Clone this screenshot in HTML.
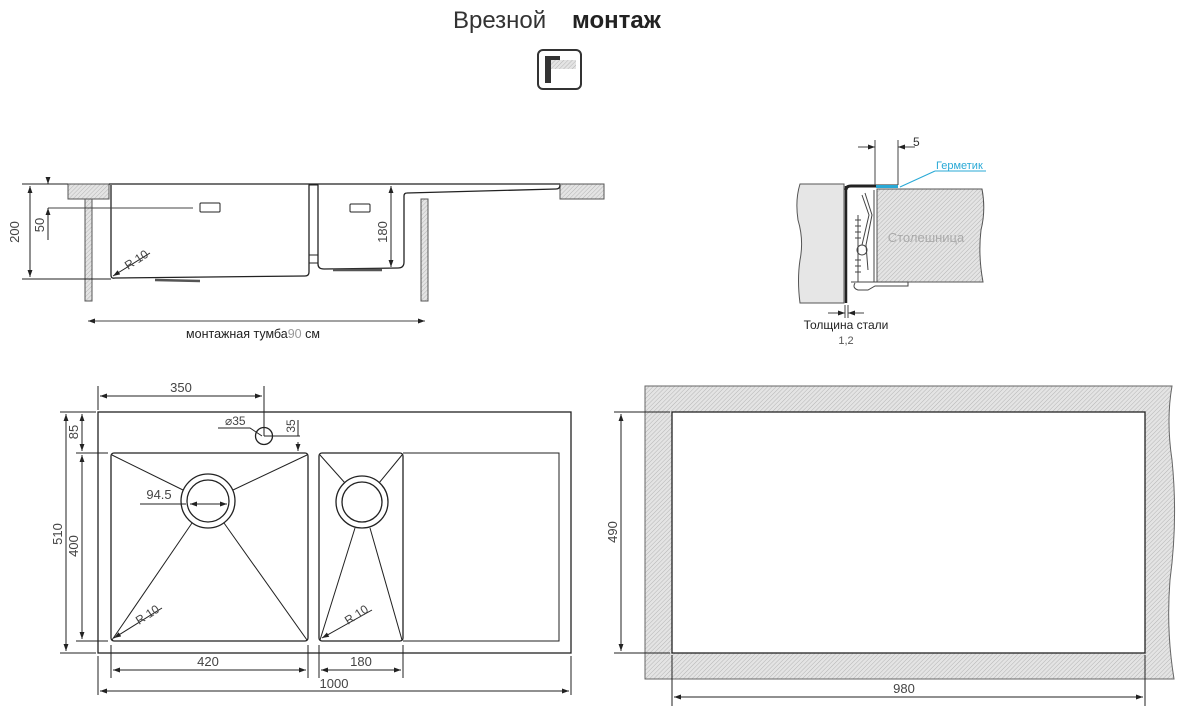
<!DOCTYPE html>
<html><head><meta charset="utf-8"><style>
html,body{margin:0;padding:0;background:#fff;}
svg{display:block;font-family:"Liberation Sans",sans-serif;}
</style></head><body>
<svg width="1185" height="712" viewBox="0 0 1185 712" xmlns="http://www.w3.org/2000/svg">
<defs>
<pattern id="h" width="3" height="3" patternUnits="userSpaceOnUse" patternTransform="rotate(45)">
<rect width="3" height="3" fill="#e4e4e4"/><line x1="0" y1="0" x2="0" y2="3" stroke="#b5b5b5" stroke-width="1"/>
</pattern>
<marker id="a" viewBox="0 0 10 10" refX="10" refY="5" markerWidth="7" markerHeight="7" orient="auto-start-reverse"><path d="M0,1.5 L10,5 L0,8.5z" fill="#222"/></marker>
</defs>

<!-- Title -->
<text x="453" y="28" font-size="24" fill="#333" font-weight="300">Врезной</text>
<text x="572" y="28" font-size="24" fill="#222" font-weight="bold">монтаж</text>
<rect x="538" y="50" width="43" height="39" rx="5" fill="#fff" stroke="#333" stroke-width="2"/>
<rect x="545" y="56" width="6" height="27" fill="#333"/>
<rect x="545" y="56" width="15" height="6" fill="#333"/>
<rect x="551" y="60" width="25" height="9" fill="url(#h)"/>

<!-- Side section -->
<g stroke="#222" fill="none" stroke-width="1">
<rect x="68" y="184" width="41" height="15" fill="url(#h)" stroke="#555"/>
<rect x="85" y="199" width="7" height="102" fill="url(#h)" stroke="#555"/>
<rect x="560" y="184" width="44" height="15" fill="url(#h)" stroke="#555"/>
<rect x="421" y="199" width="7" height="102" fill="url(#h)" stroke="#555"/>
<line x1="109" y1="184" x2="560" y2="184" stroke-width="1.3"/>
<path d="M111,185 V275 Q111,279 115,278 L305,276 Q309,276 309,272 V185" stroke-width="1.3"/>
<rect x="309" y="185" width="9" height="70"/><rect x="309" y="255" width="9" height="8"/>
<path d="M318,185 V264 Q318,269 324,269 L398,268 Q404,268 404,262 V196 Q404,193 407,193 L556,189 Q560,189 560,185" stroke-width="1.3"/>
<path d="M155,280 L200,281 M333,270 L382,270" stroke-width="2.5" stroke="#555"/>
<rect x="200" y="203" width="20" height="9" rx="1"/>
<rect x="350" y="204" width="20" height="8" rx="1"/>
<line x1="48" y1="208" x2="193" y2="208" stroke="#444"/>
<line x1="22" y1="184" x2="68" y2="184"/><line x1="22" y1="279" x2="111" y2="279"/>
<line x1="30" y1="186" x2="30" y2="277" marker-start="url(#a)" marker-end="url(#a)"/>
<line x1="48" y1="177" x2="48" y2="184" marker-end="url(#a)"/>
<line x1="48" y1="240" x2="48" y2="208" marker-end="url(#a)"/>
<line x1="391" y1="186" x2="391" y2="267" marker-start="url(#a)" marker-end="url(#a)"/>
<line x1="88" y1="321" x2="425" y2="321" stroke="#444" marker-start="url(#a)" marker-end="url(#a)"/>
<line x1="150" y1="253" x2="113" y2="276" marker-end="url(#a)"/>
</g>
<g fill="#444" font-size="12">
<text transform="translate(19,232) rotate(-90)" text-anchor="middle" font-size="13">200</text>
<text transform="translate(44,225) rotate(-90)" text-anchor="middle" font-size="13">50</text>
<text transform="translate(387,232) rotate(-90)" text-anchor="middle" font-size="13">180</text>
<text transform="translate(128,270) rotate(-33)" font-size="12">R 10</text>
<text x="253" y="338" text-anchor="middle" font-size="12.5" fill="#222">монтажная тумба<tspan fill="#999">90</tspan> см</text>
</g>

<!-- Detail -->
<path d="M800,184 H844 V303 H800 Q797,280 800,260 Q804,240 798,220 Q795,200 800,184z" fill="#e6e6e6" stroke="#555"/>
<path d="M877,189 H982 Q986,210 981,230 Q978,255 983,282 H877z" fill="url(#h)" stroke="#555"/>
<line x1="846" y1="186" x2="846" y2="303" stroke="#222" stroke-width="2.5"/>
<path d="M846,190 Q846,186 851,186 H898" stroke="#222" stroke-width="3" fill="none"/>
<line x1="876" y1="186.5" x2="898" y2="186.5" stroke="#29a9d6" stroke-width="3"/>
<g stroke="#444" fill="none" stroke-width="1">
<line x1="874" y1="190" x2="874" y2="282"/>
<path d="M865,193 L872,215 L866,245 L868,270"/>
<path d="M862,195 L869,215 L862,245"/>
<circle cx="862" cy="250" r="5"/>
<path d="M858,215 V282 M855,220 l6,0 M855,226 l6,0 M855,232 l6,0 M855,238 l6,0 M855,260 l6,0 M855,266 l6,0 M855,272 l6,0"/>
<path d="M851,282 H908 V286 H875 L868,290 H858 Q852,288 855,283"/>
<line x1="875" y1="140" x2="875" y2="185"/><line x1="898" y1="140" x2="898" y2="185"/>
<line x1="858" y1="147" x2="875" y2="147" marker-end="url(#a)"/>
<line x1="915" y1="147" x2="898" y2="147" marker-end="url(#a)"/>
<line x1="845" y1="305" x2="845" y2="318"/><line x1="848" y1="305" x2="848" y2="318"/>
<line x1="828" y1="313" x2="845" y2="313" marker-end="url(#a)"/>
<line x1="864" y1="313" x2="848" y2="313" marker-end="url(#a)"/>
</g>
<line x1="935" y1="171" x2="900" y2="187" stroke="#29a9d6"/>
<line x1="935" y1="171" x2="986" y2="171" stroke="#29a9d6"/>
<text x="936" y="169" font-size="11" fill="#29a9d6">Герметик</text>
<text x="913" y="146" font-size="12" fill="#333">5</text>
<text x="926" y="242" font-size="13" fill="#aaa" text-anchor="middle">Столешница</text>
<text x="846" y="329" font-size="12" fill="#222" text-anchor="middle">Толщина стали</text>
<text x="846" y="344" font-size="11" fill="#555" text-anchor="middle">1,2</text>

<!-- Top view -->
<g stroke="#222" fill="none" stroke-width="1.3">
<rect x="98" y="412" width="473" height="241"/>
<rect x="111" y="453" width="197" height="188" rx="3"/>
<rect x="319" y="453" width="84" height="188" rx="3"/>
<path d="M403,453 H559 V641 H403" stroke-width="1"/>
<circle cx="208" cy="501" r="27"/><circle cx="208" cy="501" r="21"/>
<circle cx="362" cy="502" r="26"/><circle cx="362" cy="502" r="20"/>
<circle cx="264" cy="436" r="8.5"/>
<g stroke-width="1">
<path d="M112,455 L183,490 M307,455 L233,490 M112,640 L192,523 M307,640 L224,523"/>
<path d="M320,455 L345,483 M402,455 L379,483 M320,640 L355,528 M402,640 L370,528"/>
</g>
</g>
<g stroke="#222" fill="none" stroke-width="1">
<line x1="98" y1="386" x2="98" y2="410"/>
<line x1="264" y1="386" x2="264" y2="436"/>
<line x1="100" y1="396" x2="262" y2="396" marker-start="url(#a)" marker-end="url(#a)"/>
<line x1="264" y1="436" x2="300" y2="436"/>
<line x1="298" y1="420" x2="298" y2="436"/>
<line x1="298" y1="442" x2="298" y2="451" marker-end="url(#a)"/>
<path d="M218,428 H250 L262,436"/>
<line x1="140" y1="504" x2="186" y2="504"/>
<line x1="190" y1="504" x2="227" y2="504" marker-start="url(#a)" marker-end="url(#a)"/>
<line x1="60" y1="412" x2="96" y2="412"/><line x1="76" y1="453" x2="108" y2="453"/>
<line x1="76" y1="641" x2="108" y2="641"/><line x1="60" y1="653" x2="96" y2="653"/>
<line x1="66" y1="414" x2="66" y2="651" marker-start="url(#a)" marker-end="url(#a)"/>
<line x1="82" y1="414" x2="82" y2="451" marker-start="url(#a)" marker-end="url(#a)"/>
<line x1="82" y1="455" x2="82" y2="639" marker-start="url(#a)" marker-end="url(#a)"/>
<line x1="111" y1="645" x2="111" y2="678"/><line x1="308" y1="645" x2="308" y2="678"/>
<line x1="319" y1="645" x2="319" y2="678"/><line x1="403" y1="645" x2="403" y2="678"/>
<line x1="98" y1="656" x2="98" y2="695"/><line x1="571" y1="656" x2="571" y2="695"/>
<line x1="113" y1="670" x2="306" y2="670" marker-start="url(#a)" marker-end="url(#a)"/>
<line x1="321" y1="670" x2="401" y2="670" marker-start="url(#a)" marker-end="url(#a)"/>
<line x1="100" y1="691" x2="569" y2="691" marker-start="url(#a)" marker-end="url(#a)"/>
<line x1="162" y1="608" x2="114" y2="638" marker-end="url(#a)"/>
<line x1="372" y1="610" x2="322" y2="638" marker-end="url(#a)"/>
</g>
<g fill="#444" font-size="13">
<text x="181" y="392" text-anchor="middle">350</text>
<text x="225" y="425" font-size="12">⌀35</text>
<text transform="translate(295,426) rotate(-90)" text-anchor="middle" font-size="12">35</text>
<text x="159" y="499" text-anchor="middle">94.5</text>
<text transform="translate(78,432) rotate(-90)" text-anchor="middle">85</text>
<text transform="translate(78,546) rotate(-90)" text-anchor="middle">400</text>
<text transform="translate(62,534) rotate(-90)" text-anchor="middle">510</text>
<text x="208" y="666" text-anchor="middle">420</text>
<text x="361" y="666" text-anchor="middle">180</text>
<text x="334" y="688" text-anchor="middle">1000</text>
<text transform="translate(139,625) rotate(-33)" font-size="12">R 10</text>
<text transform="translate(348,625) rotate(-33)" font-size="12">R 10</text>
</g>

<!-- Cutout -->
<path d="M645,386 H1172 Q1166,420 1172,460 Q1178,520 1170,580 Q1166,630 1174,679 H645z" fill="url(#h)" stroke="#666"/>
<rect x="672" y="412" width="473" height="241" fill="#fff" stroke="#222" stroke-width="1.3"/>
<g stroke="#222" fill="none" stroke-width="1">
<line x1="614" y1="412" x2="670" y2="412"/><line x1="614" y1="653" x2="670" y2="653"/>
<line x1="621" y1="414" x2="621" y2="651" marker-start="url(#a)" marker-end="url(#a)"/>
<line x1="672" y1="655" x2="672" y2="706"/><line x1="1145" y1="655" x2="1145" y2="706"/>
<line x1="674" y1="697" x2="1143" y2="697" marker-start="url(#a)" marker-end="url(#a)"/>
</g>
<text transform="translate(617,532) rotate(-90)" text-anchor="middle" font-size="13" fill="#444">490</text>
<text x="904" y="693" text-anchor="middle" font-size="13" fill="#444">980</text>
</svg>
</body></html>
